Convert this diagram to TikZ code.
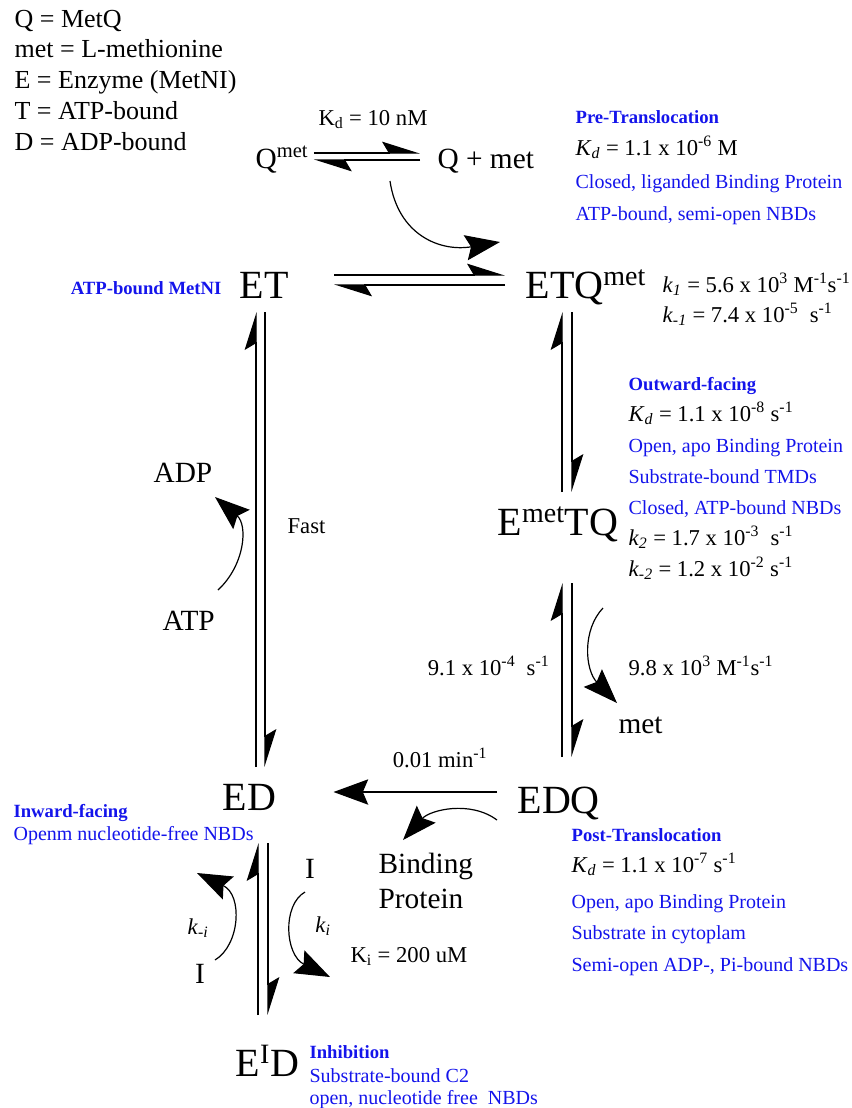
\documentclass[tikz,border=0pt]{standalone}
\usepackage{fontspec}
\setmainfont{Liberation Serif}
\usetikzlibrary{arrows.meta,calc}
\definecolor{noteblue}{RGB}{20,20,235}

\begin{document}
\begin{tikzpicture}[x=0.75pt,y=-0.75pt,line width=0.9pt,every node/.style={inner sep=0pt},
  legend/.style={anchor=base west,font=\fontsize{19.5}{23}\selectfont},
  species/.style={anchor=base west,font=\fontsize{30}{36}\selectfont},
  ligand/.style={font=\fontsize{22}{27}\selectfont},
  rate/.style={font=\fontsize{17}{20}\selectfont},
  note/.style={anchor=base west,text=noteblue,font=\fontsize{15}{18}\selectfont},
  state/.style={anchor=base west,text=noteblue,font=\fontsize{14}{17}\selectfont\bfseries},
  half/.style={-{Stealth[harpoon,length=27pt,width=17pt,inset=5pt]}},
  turn/.style={-{Stealth[length=26pt,width=19pt,inset=4pt]}}]
  \useasboundingbox (0,0) rectangle (852,1108);
  % legend
  \node[legend] (lq) at (14,27) {Q = MetQ};
  \node[legend] (lmet) at (14,57.7) {met = L-methionine};
  \node[legend] (le) at (14,88.4) {E = Enzyme (MetNI)};
  \node[legend] (lt) at (14,119) {T = ATP-bound};
  \node[legend] (ld) at (14,150) {D = ADP-bound};
  % binding protein equilibrium
  \node[rate,anchor=base] (kdq) at (373,125) {K\textsubscript{d} = 10 nM};
  \node[ligand,anchor=base west] (qmet) at (255,168) {Q\textsuperscript{met}};
  \node[ligand,anchor=base west] (qfree) at (437,168) {Q + met};
  \draw[half] ($(qmet.base east)+(5,-15)$) -- ($(qfree.base west)+(-17,-15)$);
  \draw[half] ($(qfree.base west)+(-17,-8)$) -- ($(qmet.base east)+(5,-8)$);
  % species
  \node[species] (et) at (239,298) {ET};
  \node[species] (etq) at (525,298) {ETQ\textsuperscript{met}};
  \node[species] (emtq) at (497,535) {E\textsuperscript{met}TQ};
  \node[species] (edq) at (517,813) {EDQ};
  \node[species] (ed) at (222,810) {ED};
  \node[species] (eid) at (235,1076) {E\textsuperscript{I}D};
  \draw[turn] ($(qfree.base west)+(-47,13)$) .. controls (398,235) and (440,252) .. ($(etq.base west)+(-25,-56)$);
  \draw[half] ($(et.base east)+(45,-23)$) -- ($(etq.base west)+(-20,-23)$);
  \draw[half] ($(etq.base west)+(-20,-13)$) -- ($(et.base east)+(45,-13)$);
  % state notes
  \node[state,anchor=base east] (etlab) at (222,294) {ATP-bound MetNI};
  \node[state] (pre) at (575,123) {Pre-Translocation};
  \node[rate,anchor=base west] (prekd) at (575,155) {\textit{K}\textsubscript{\textit{d}} = 1.1 x 10\textsuperscript{-6} M};
  \node[note] (pre1) at (575,188) {Closed, liganded Binding Protein};
  \node[note] (pre2) at (575,220) {ATP-bound, semi-open NBDs};
  \node[rate,anchor=base west] (k1) at (662,292) {\textit{k}\textsubscript{\textit{1}} = 5.6 x 10\textsuperscript{3} M\textsuperscript{-1}s\textsuperscript{-1}};
  \node[rate,anchor=base west] (km1) at (662,322) {\textit{k}\textsubscript{\textit{-1}} = 7.4 x 10\textsuperscript{-5}~ s\textsuperscript{-1}};
  \node[state] (out) at (628,390) {Outward-facing};
  \node[rate,anchor=base west] (outkd) at (628,421) {\textit{K}\textsubscript{\textit{d}} = 1.1 x 10\textsuperscript{-8} s\textsuperscript{-1}};
  \node[note] (out1) at (628,452) {Open, apo Binding Protein};
  \node[note] (out2) at (628,483) {Substrate-bound TMDs};
  \node[note] (out3) at (628,514) {Closed, ATP-bound NBDs};
  \node[rate,anchor=base west] (k2) at (628,545) {\textit{k}\textsubscript{\textit{2}} = 1.7 x 10\textsuperscript{-3}~ s\textsuperscript{-1}};
  \node[rate,anchor=base west] (km2) at (628,576) {\textit{k}\textsubscript{\textit{-2}} = 1.2 x 10\textsuperscript{-2} s\textsuperscript{-1}};
  % ETQ <-> EmetTQ <-> EDQ
  \draw[half] ($(emtq.base west)+(65,-43)$) -- ($(etq.base west)+(37,14)$);
  \draw[half] ($(etq.base west)+(47,14)$) -- ($(emtq.base west)+(75,-43)$);
  \draw[half] ($(edq.base west)+(45,-56)$) -- ($(emtq.base west)+(65,48)$);
  \draw[half] ($(emtq.base west)+(75,48)$) -- ($(edq.base west)+(55,-56)$);
  \node[rate,anchor=base east] (krev) at (550,675) {9.1 x 10\textsuperscript{-4}~ s\textsuperscript{-1}};
  \node[rate,anchor=base west] (kon) at (628,675) {9.8 x 10\textsuperscript{3} M\textsuperscript{-1}s\textsuperscript{-1}};
  \node[ligand,anchor=base west] (metout) at (618,733) {met};
  \draw[turn] ($(emtq.base west)+(106,73)$) .. controls (582,630) and (585,670) .. ($(metout.base west)+(-1,-30)$);
  % EDQ -> ED
  \node[rate,anchor=base] (kslow) at (440,767) {0.01 min\textsuperscript{-1}};
  \draw[turn] ($(edq.base west)+(-20,-21)$) -- ($(ed.base east)+(57,-18)$);
  \node[ligand,anchor=north west,align=left] (bp) at (378,853) {Binding\\[-1pt]Protein};
  \draw[turn] ($(edq.base west)+(-20,7)$) .. controls (470,800) and (430,810) .. ($(bp.north west)+(25,-13)$);
  \node[state] (inw) at (13,817) {Inward-facing};
  \node[note] (inw1) at (13,840) {Openm nucleotide-free NBDs};
  % ET <-> ED
  \draw[half] ($(ed.base west)+(34,-43)$) -- ($(et.base west)+(17,14)$);
  \draw[half] ($(et.base west)+(26,14)$) -- ($(ed.base west)+(43,-43)$);
  \node[rate,anchor=base west] (fast) at (287,533) {Fast};
  \node[ligand,anchor=base west] (adp) at (153,482) {ADP};
  \node[ligand,anchor=base west] (atp) at (162,630) {ATP};
  \draw[turn] ($(atp.base west)+(56,-40)$) .. controls (245,565) and (248,525) .. ($(adp.base west)+(62,15)$);
  % ED <-> EID
  \draw[half] ($(eid.base west)+(23,-61)$) -- ($(ed.base west)+(36,33)$);
  \draw[half] ($(ed.base west)+(46,33)$) -- ($(eid.base west)+(33,-61)$);
  \node[ligand,anchor=base] (iout) at (200,983) {I};
  \node[rate,anchor=base] (kmi) at (198,934) {\textit{k}\textsubscript{\textit{-i}}};
  \draw[turn] ($(iout.base)+(15,-23)$) .. controls (240,945) and (243,895) .. ($(ed.base west)+(-25,63)$);
  \node[ligand,anchor=base] (iin) at (310,878) {I};
  \node[rate,anchor=base] (ki) at (323,932) {\textit{k}\textsubscript{\textit{i}}};
  \node[rate,anchor=base west] (kinh) at (350,962) {K\textsubscript{i} = 200 uM};
  \draw[turn] ($(iin.base)+(-5,14)$) .. controls (282,905) and (285,955) .. ($(eid.base west)+(95,-99)$);
  \node[state] (inh) at (309,1058) {Inhibition};
  \node[note] (inh1) at (309,1082) {Substrate-bound C2};
  \node[note] (inh2) at (309,1104) {open, nucleotide free~ NBDs};
  % post-translocation
  \node[state] (post) at (571,841) {Post-Translocation};
  \node[rate,anchor=base west] (postkd) at (571,872) {\textit{K}\textsubscript{\textit{d}} = 1.1 x 10\textsuperscript{-7} s\textsuperscript{-1}};
  \node[note] (post1) at (571,908) {Open, apo Binding Protein};
  \node[note] (post2) at (571,939) {Substrate in cytoplam};
  \node[note] (post3) at (571,971) {Semi-open ADP-, Pi-bound NBDs};
\end{tikzpicture}
\end{document}
